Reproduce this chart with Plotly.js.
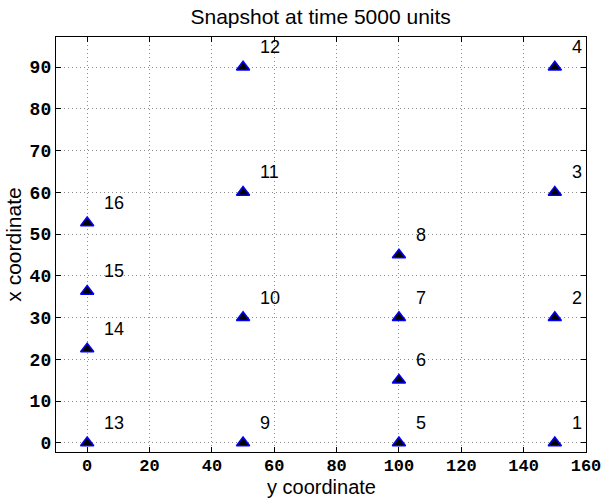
<!DOCTYPE html>
<html>
<head>
<meta charset="utf-8">
<script src="https://cdn.plot.ly/plotly-3.0.1.min.js"></script>
<style>html,body{margin:0;padding:0;background:#fff;}#chart{width:605px;height:499px;}</style>
</head>
<body>
<div id="chart"></div>
<script>
const nodeIds = [1,2,3,4,5,6,7,8,9,10,11,12,13,14,15,16];
const yCoord = [150,150,150,150,100,100,100,100,50,50,50,50,0,0,0,0];
const xCoord = [0,30,60,90,0,15,30,45,0,30,60,90,0,22.5,36.3,52.7];
const xTicks = [0,20,40,60,80,100,120,140,160];
const yTicks = [0,10,20,30,40,50,60,70,80,90];

const trace = {
  x: yCoord, y: xCoord, mode: 'markers', type: 'scatter',
  marker: {symbol: 'triangle-up', size: 11.5, color: '#000', line: {color: '#0000ff', width: 1.5}},
  hoverinfo: 'none', showlegend: false
};

const annotations = nodeIds.map((id, i) => ({
  x: yCoord[i], y: xCoord[i], xref: 'x', yref: 'y',
  text: String(id), showarrow: false, xanchor: 'left', yanchor: 'middle',
  xshift: 15, yshift: 20,
  font: {family: 'Liberation Sans, Arial, sans-serif', size: 18, color: '#000'}
}));

// x-axis title placed as paper annotation for exact position
annotations.push({
  text: 'y coordinate', xref: 'paper', yref: 'paper', x: 0.5, y: -0.1133,
  xanchor: 'center', yanchor: 'bottom', showarrow: false, borderpad: 0,
  font: {family: 'Liberation Sans, Arial, sans-serif', size: 20, color: '#000'}
});

const axisCommon = {
  showgrid: true, gridcolor: '#8c8c8c', griddash: '1px,3px', gridwidth: 1,
  zeroline: false, showline: true, linecolor: '#000', linewidth: 1.2, mirror: 'ticks',
  ticks: 'inside', ticklen: 5, tickcolor: '#000',
  tickfont: {family: 'Liberation Mono, Courier New, monospace', size: 17, color: '#000', weight: 'bold'}
};

const layout = {
  width: 605, height: 499,
  margin: {l: 56, r: 19, t: 37, b: 47},
  paper_bgcolor: '#fff', plot_bgcolor: '#fff',
  title: {text: 'Snapshot at time 5000 units', x: 0.53, xanchor: 'center', yref: 'container', y: 0.966, yanchor: 'middle',
    font: {family: 'Liberation Sans, Arial, sans-serif', size: 21, color: '#000'}},
  xaxis: Object.assign({}, axisCommon, {range: [-10, 160], tickvals: xTicks, ticktext: xTicks.map(String),
    ticklabelstandoff: -3}),
  yaxis: Object.assign({}, axisCommon, {range: [-2.2, 97.2], tickvals: yTicks, ticktext: yTicks.map(String),
    ticklabelstandoff: 0,
    tickfont: {family: 'Liberation Mono, Courier New, monospace', size: 18, color: '#000', weight: 'bold'},
    title: {text: 'x coordinate', standoff: 2, font: {family: 'Liberation Sans, Arial, sans-serif', size: 21, color: '#000'}}}),
  annotations: annotations
};

Plotly.newPlot('chart', [trace], layout, {displayModeBar: false, staticPlot: true});
</script>
</body>
</html>
